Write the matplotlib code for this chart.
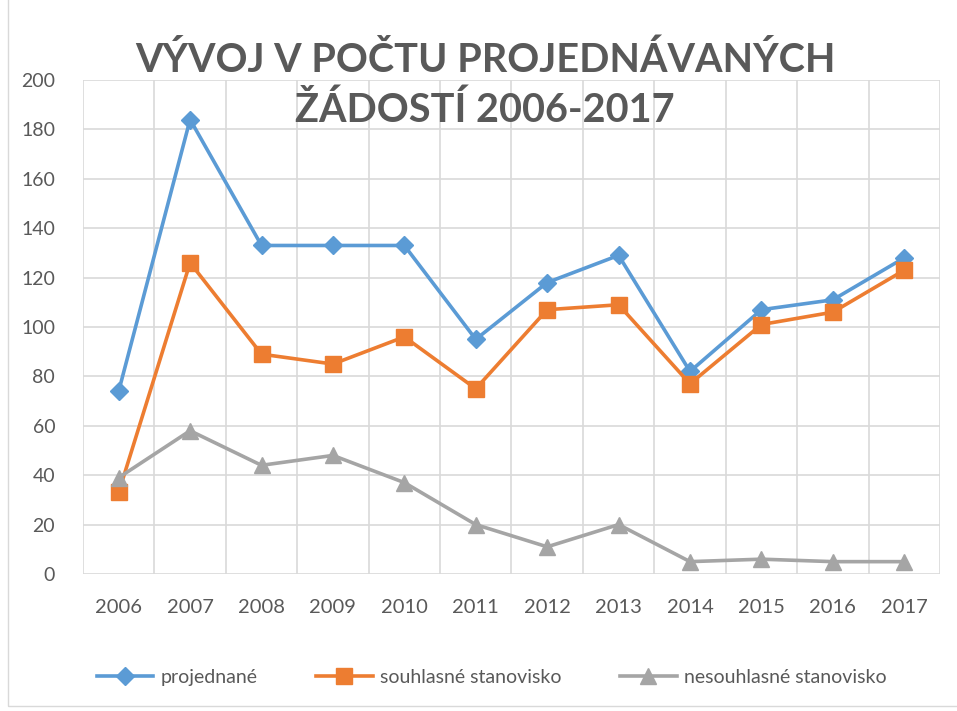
import matplotlib.pyplot as plt
from matplotlib.patches import Rectangle

# data
years = ["2006", "2007", "2008", "2009", "2010", "2011",
         "2012", "2013", "2014", "2015", "2016", "2017"]
projednane = [74, 184, 133, 133, 133, 95, 118, 129, 82, 107, 111, 128]
souhlasne = [33, 126, 89, 85, 96, 75, 107, 109, 77, 101, 106, 123]
nesouhlasne = [39, 58, 44, 48, 37, 20, 11, 20, 5, 6, 5, 5]

title = "VÝVOJ V POČTU PROJEDNÁVANÝCH\nŽÁDOSTÍ 2006-2017"
labels = ["projednané", "souhlasné stanovisko", "nesouhlasné stanovisko"]

plt.rcParams["font.family"] = ["Lato", "DejaVu Sans"]
txt = "#595959"

fig = plt.figure(figsize=(9.57, 7.11), dpi=100)
ax = fig.add_axes([0.0867, 0.1927, 0.8955, 0.6948])

x = range(len(years))
ax.plot(x, projednane, color="#5B9BD5", lw=2.6, marker="D", ms=9, label=labels[0], zorder=3)
ax.plot(x, souhlasne, color="#ED7D31", lw=2.6, marker="s", ms=11, label=labels[1], zorder=3)
ax.plot(x, nesouhlasne, color="#A5A5A5", lw=2.6, marker="^", ms=11, label=labels[2], zorder=3)

ax.set_xlim(-0.5, len(years) - 0.5)
ax.set_ylim(0, 200)
ax.set_yticks(range(0, 201, 20))
ax.set_xticks(list(x))
ax.set_xticklabels(years)
ax.set_xticks([i - 0.5 for i in range(len(years) + 1)], minor=True)

ax.grid(axis="y", which="major", color="#D9D9D9", lw=1.2)
ax.grid(axis="x", which="minor", color="#D9D9D9", lw=1.2)
ax.set_axisbelow(True)
for s in ax.spines.values():
    s.set_visible(False)
ax.tick_params(which="both", length=0)
ax.tick_params(axis="y", pad=20, labelsize=14, labelcolor=txt)
ax.tick_params(axis="x", pad=18, labelsize=14.5, labelcolor=txt)

fig.text(0.507, 0.88, title, ha="center", va="center", fontsize=28.5, fontweight="bold",
         color=txt, linespacing=1.4)

fig.legend(loc="center", bbox_to_anchor=(0.514, 0.047), ncol=3, frameon=False,
           fontsize=14, handlelength=2.9, columnspacing=3.0, handletextpad=0.4,
           labelcolor=txt)

fig.patches.append(Rectangle((8 / 957, 5 / 711), 1.2, 1.2, transform=fig.transFigure,
                             fill=False, edgecolor="#D9D9D9", lw=1))

fig.savefig("out.png", dpi=100)
